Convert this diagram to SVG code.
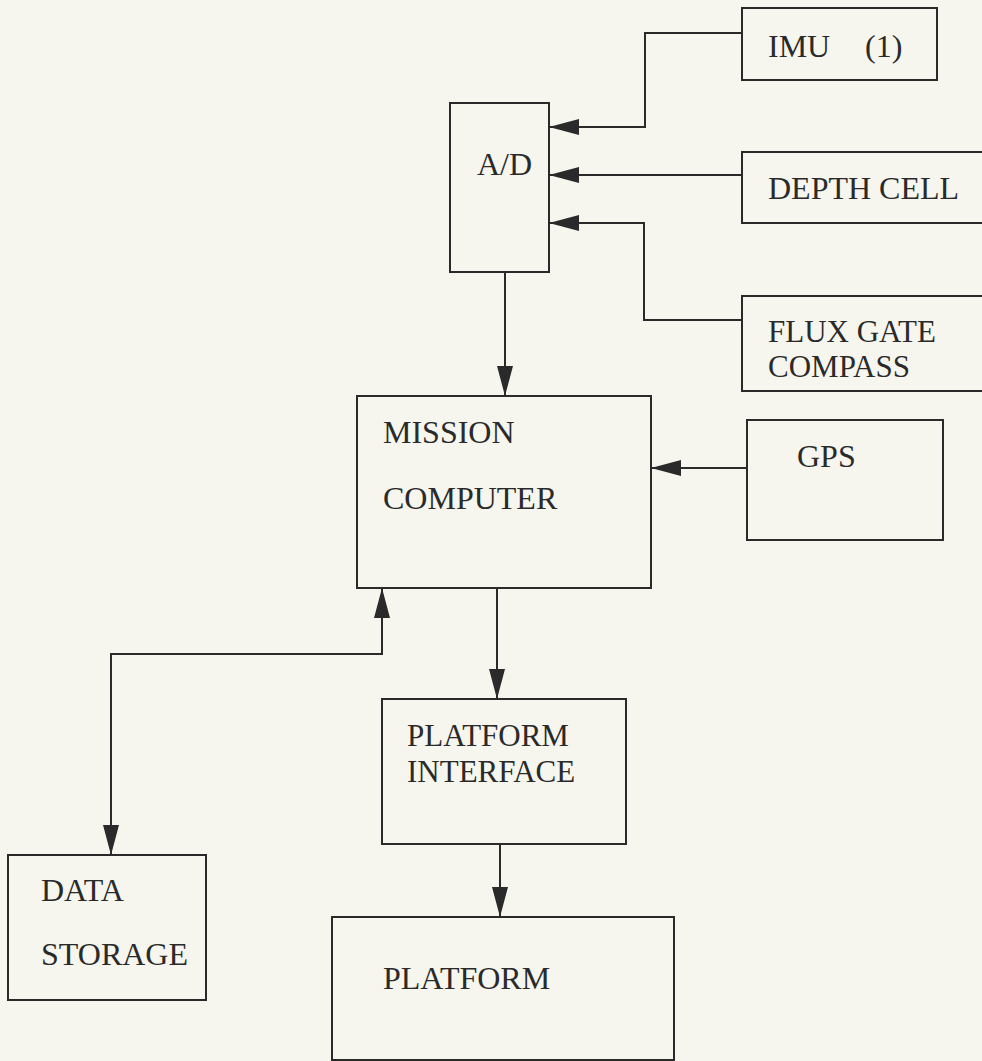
<svg xmlns="http://www.w3.org/2000/svg" width="982" height="1061" viewBox="0 0 982 1061">
<style>
.box{fill:none;stroke:#2a2a2a;stroke-width:2}
.wire{fill:none;stroke:#2a2a2a;stroke-width:2}
text{font-family:'Liberation Serif','Times New Roman','DejaVu Serif',Times,serif;font-size:32px;fill:#2a2a2a}
.sm{font-size:31px}
</style>
<defs>
<marker id="ah" markerUnits="userSpaceOnUse" markerWidth="30" markerHeight="16" refX="30" refY="8" orient="auto-start-reverse">
<path d="M0,0 L30,8 L0,16 Z" fill="#2a2a2a"/>
</marker>
</defs>
<rect x="0" y="0" width="982" height="1061" fill="#f6f6ef"/>
<g id="imu"><rect class="box" x="742" y="8" width="195" height="72"/><text x="768" y="57">IMU</text><text x="865" y="57">(1)</text></g>
<g id="ad"><rect class="box" x="450" y="103" width="99" height="169"/><text x="477" y="175">A/D</text></g>
<g id="depth"><rect class="box" x="742" y="152" width="250" height="71"/><text x="768" y="199">DEPTH CELL</text></g>
<g id="flux"><rect class="box" x="742" y="296" width="250" height="95"/><text class="sm" x="768" y="342">FLUX GATE</text><text class="sm" x="768" y="377">COMPASS</text></g>
<g id="mission"><rect class="box" x="357" y="396" width="294" height="192"/><text x="383" y="443">MISSION</text><text x="383" y="509">COMPUTER</text></g>
<g id="gps"><rect class="box" x="747" y="420" width="196" height="120"/><text x="797" y="467">GPS</text></g>
<g id="interface"><rect class="box" x="382" y="699" width="244" height="145"/><text class="sm" x="407" y="746">PLATFORM</text><text class="sm" x="407" y="782">INTERFACE</text></g>
<g id="storage"><rect class="box" x="8" y="855" width="198" height="145"/><text x="41" y="901">DATA</text><text x="41" y="965">STORAGE</text></g>
<g id="platform"><rect class="box" x="332" y="917" width="342" height="143"/><text x="383" y="989">PLATFORM</text></g>
<g id="connectors">
<path class="wire" d="M742,33 H645 V127 H549" marker-end="url(#ah)"/>
<path class="wire" d="M742,175 H549" marker-end="url(#ah)"/>
<path class="wire" d="M742,320 H644 V223 H549" marker-end="url(#ah)"/>
<path class="wire" d="M505,272 V396" marker-end="url(#ah)"/>
<path class="wire" d="M747,468 H651" marker-end="url(#ah)"/>
<path class="wire" d="M497,588 V699" marker-end="url(#ah)"/>
<path class="wire" d="M500,844 V917" marker-end="url(#ah)"/>
<path class="wire" d="M382,588 V654 H111 V855" marker-start="url(#ah)" marker-end="url(#ah)"/>
</g>
</svg>
